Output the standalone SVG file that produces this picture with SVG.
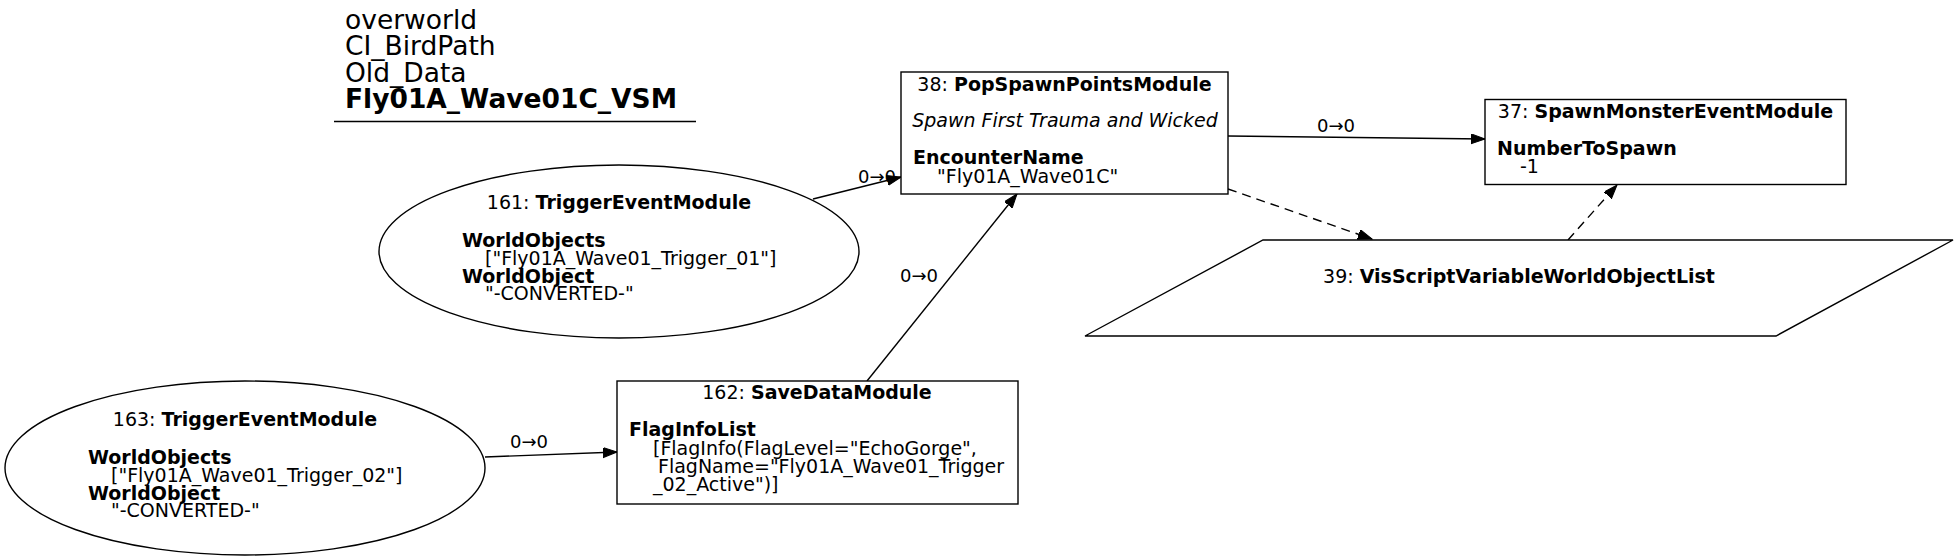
<svg xmlns="http://www.w3.org/2000/svg" width="1959" height="560" viewBox="0 0 1959 560">
<defs>
<style>
text { font-family: "DejaVu Sans", "Liberation Sans", sans-serif; font-size: 19px; fill: #000; }
.t { font-size: 26.5px; }
.b { font-weight: bold; }
.i { font-style: italic; }
.c { text-anchor: middle; }
.shape { fill: #fff; stroke: #000; stroke-width: 1.4; }
.edge { fill: none; stroke: #000; stroke-width: 1.4; }
.dash { stroke-dasharray: 9 6; }
.lbl { font-size: 18px; }
</style>
<marker id="arr" markerUnits="userSpaceOnUse" markerWidth="16" markerHeight="12" refX="14" refY="5" orient="auto">
<path d="M0,0 L14,5 L0,10 z" fill="#000" stroke="#000" stroke-width="1"/>
</marker>
</defs>
<rect width="1959" height="560" fill="#fff"/>

<g id="title">
<text class="t" x="345" y="28.5">overworld</text>
<text class="t" x="345" y="55">CI_BirdPath</text>
<text class="t" x="345" y="81.5">Old_Data</text>
<text class="t b" x="345" y="108">Fly01A_Wave01C_VSM</text>
<line x1="334" y1="121.5" x2="696" y2="121.5" stroke="#000" stroke-width="1.4"/>
</g>

<g id="connectors">
<line class="edge" x1="813" y1="199" x2="901" y2="177" marker-end="url(#arr)"/>
<text class="lbl" x="858" y="183">0→0</text>
<line class="edge" x1="485" y1="457" x2="617" y2="452" marker-end="url(#arr)"/>
<text class="lbl" x="510" y="448">0→0</text>
<line class="edge" x1="867" y1="381" x2="1017" y2="194" marker-end="url(#arr)"/>
<text class="lbl" x="900" y="282">0→0</text>
<line class="edge" x1="1228" y1="136" x2="1485" y2="139" marker-end="url(#arr)"/>
<text class="lbl c" x="1336" y="132">0→0</text>
<line class="edge dash" x1="1228" y1="189" x2="1372" y2="239" marker-end="url(#arr)"/>
<line class="edge dash" x1="1568" y1="240" x2="1617" y2="185" marker-end="url(#arr)"/>
</g>

<g id="node161">
<ellipse class="shape" cx="619" cy="251.5" rx="240" ry="86.5"/>
<text class="c" x="619" y="209">161: <tspan class="b">TriggerEventModule</tspan></text>
<text class="b" x="462" y="247">WorldObjects</text>
<text x="485" y="265">["Fly01A_Wave01_Trigger_01"]</text>
<text class="b" x="462" y="283">WorldObject</text>
<text x="485" y="300">"-CONVERTED-"</text>
</g>

<g id="node163">
<ellipse class="shape" cx="245" cy="468" rx="240" ry="87"/>
<text class="c" x="245" y="425.5">163: <tspan class="b">TriggerEventModule</tspan></text>
<text class="b" x="88" y="463.5">WorldObjects</text>
<text x="111" y="481.5">["Fly01A_Wave01_Trigger_02"]</text>
<text class="b" x="88" y="499.5">WorldObject</text>
<text x="111" y="516.5">"-CONVERTED-"</text>
</g>

<g id="node162">
<rect class="shape" x="617" y="381" width="401" height="123"/>
<text class="c" x="817" y="399">162: <tspan class="b">SaveDataModule</tspan></text>
<text class="b" x="629" y="436">FlagInfoList</text>
<text x="653" y="455">[FlagInfo(FlagLevel="EchoGorge",</text>
<text x="658" y="473">FlagName="Fly01A_Wave01_Trigger</text>
<text x="653" y="491">_02_Active")]</text>
</g>

<g id="node38">
<rect class="shape" x="901" y="72" width="327" height="122"/>
<text class="c" x="1064.5" y="91">38: <tspan class="b">PopSpawnPointsModule</tspan></text>
<text class="c i" x="1065" y="127">Spawn First Trauma and Wicked</text>
<text class="b" x="913" y="164">EncounterName</text>
<text x="937" y="183">"Fly01A_Wave01C"</text>
</g>

<g id="node37">
<rect class="shape" x="1485" y="99.5" width="361" height="85"/>
<text class="c" x="1665.5" y="118">37: <tspan class="b">SpawnMonsterEventModule</tspan></text>
<text class="b" x="1497" y="155">NumberToSpawn</text>
<text x="1520" y="173">-1</text>
</g>

<g id="node39">
<polygon class="shape" points="1263,240 1953,240 1776,336 1085,336"/>
<text class="c" x="1519" y="283">39: <tspan class="b">VisScriptVariableWorldObjectList</tspan></text>
</g>
</svg>
